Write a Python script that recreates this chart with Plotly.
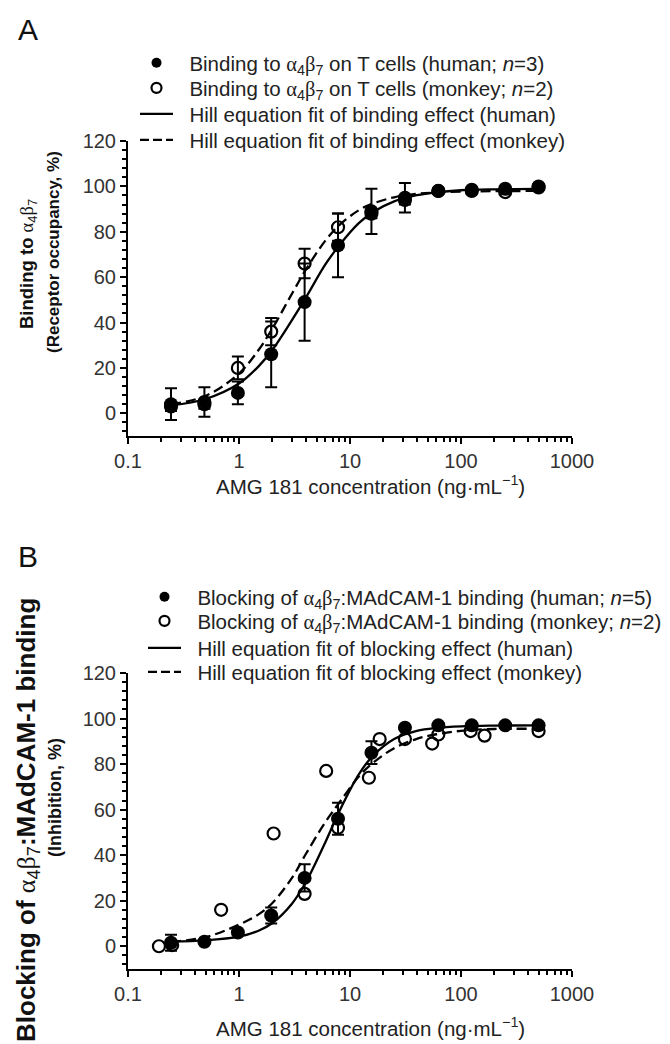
import plotly.graph_objects as go

# ---------------- data ----------------
conc_A = [0.244, 0.488, 0.977, 1.95, 3.9, 7.8, 15.6, 31.25, 62.5, 125, 250, 500]
human_A = [4, 5, 9, 26, 49, 74, 89, 95, 98, 98.5, 99, 100]
human_A_err = [7, 6.5, 5, 14.5, 17, 14, 10, 6.5, 1, 1, 1, 1]
monkey_A = [3, 4, 20, 36, 66, 82, 88, 94, 98, 98, 97.5, 99.5]
monkey_A_err = [2, 2, 5, 6, 6.5, 6, 2, 2, 1, 1, 1, 1]

fit_x = [0.244, 0.5, 1, 1.5, 2, 3, 4, 6, 8, 12, 16, 25, 40, 60, 100, 200, 500]
fit_A_human = [3.5, 6.3, 13.1, 20.7, 28, 41.1, 51, 65.6, 74, 83.8, 88.6, 93.4, 96.1, 97.4, 98.3, 98.7, 98.9]
fit_A_monkey = [4, 7.7, 17.5, 27.9, 37.4, 52.7, 63.3, 76.1, 82.9, 89.5, 92.4, 95.2, 96.7, 97.3, 97.7, 97.9, 98]

conc_B = [0.244, 0.488, 0.977, 1.95, 3.9, 7.8, 15.6, 31.25, 62.5, 125, 250, 500]
human_B = [1.5, 2, 6, 13.5, 30, 56, 85, 96, 97, 97, 97, 97]
human_B_err = [3.5, 1, 1, 3.5, 6, 7, 5, 1, 1, 1, 1, 1]
monkey_B_x = [0.19, 0.25, 0.69, 2.05, 3.9, 6.1, 7.8, 14.8, 18.5, 31.25, 55, 62.5, 122, 163, 500]
monkey_B_y = [0, 0.5, 16, 49.5, 23, 77, 52, 74, 91, 91, 89, 93, 94.5, 92.5, 94.5]

fit_B_human = [2.1, 2.6, 4.2, 6.8, 10.2, 18.7, 28.1, 45.7, 59.2, 75.5, 83.5, 91, 94.6, 95.9, 96.6, 96.9, 97]
fit_B_monkey = [2, 4, 9.5, 14, 19, 30, 40.5, 54.5, 63, 74.5, 80.4, 87, 91.1, 93.1, 94.6, 95.4, 95.5]

x_tickvals = [0.1, 1, 10, 100, 1000]
x_ticktext = ["0.1", "1", "10", "100", "1000"]
y_tickvals = [0, 20, 40, 60, 80, 100, 120]

ab = ('<span style="font-family:Liberation Serif">α</span><sub>4</sub>'
      '<span style="font-family:Liberation Serif">β</span><sub>7</sub>')
NB = "\u00a0\u00a0"
legend_A = [
    f"{NB}Binding to {ab} on T cells (human; <i>n</i>=3)",
    f"{NB}Binding to {ab} on T cells (monkey; <i>n</i>=2)",
    f"{NB}Hill equation fit of binding effect (human)",
    f"{NB}Hill equation fit of binding effect (monkey)",
]
legend_B = [
    f"{NB}Blocking of {ab}:MAdCAM-1 binding (human; <i>n</i>=5)",
    f"{NB}Blocking of {ab}:MAdCAM-1 binding (monkey; <i>n</i>=2)",
    f"{NB}Hill equation fit of blocking effect (human)",
    f"{NB}Hill equation fit of blocking effect (monkey)",
]

# ---------------- layout geometry ----------------
W, H = 670, 1044
FONT = "Liberation Sans, Arial, sans-serif"


def px_x(p):
    return p / W


def px_y(p):
    return 1 - p / H


fig = go.Figure()

minor_x = [m * 10 ** e for e in range(-1, 3) for m in range(2, 10)]


def add_panel(xa, ya, legends, human_x, human_y, human_err, mon_x, mon_y, mon_err,
              fit_h, fit_m, labels):
    fig.add_trace(go.Scatter(x=fit_x, y=fit_h, mode="lines", line=dict(color="black", width=2.3, shape="spline"),
                             xaxis=xa, yaxis=ya, showlegend=False, hoverinfo="skip"))
    fig.add_trace(go.Scatter(x=fit_x, y=fit_m, mode="lines",
                             line=dict(color="black", width=2.3, dash="10px,5px", shape="spline"),
                             xaxis=xa, yaxis=ya, showlegend=False, hoverinfo="skip"))
    ey = dict(type="data", array=mon_err, color="black", thickness=2, width=6, visible=True) if mon_err else None
    fig.add_trace(go.Scatter(x=mon_x, y=mon_y, mode="markers",
                             marker=dict(symbol="circle-open", size=12, color="black", line=dict(width=2.2)),
                             error_y=ey, xaxis=xa, yaxis=ya, showlegend=False, cliponaxis=False))
    fig.add_trace(go.Scatter(x=human_x, y=human_y, mode="markers",
                             marker=dict(symbol="circle", size=14, color="black"),
                             error_y=dict(type="data", array=human_err, color="black", thickness=2, width=6),
                             xaxis=xa, yaxis=ya, showlegend=False, cliponaxis=False))
    # legend samples (one legend box per row)
    fig.add_trace(go.Scatter(x=[None], y=[None], mode="markers", name=labels[0],
                             marker=dict(symbol="circle", size=10, color="black"),
                             xaxis=xa, yaxis=ya, legend=legends[0]))
    fig.add_trace(go.Scatter(x=[None], y=[None], mode="markers", name=labels[1],
                             marker=dict(symbol="circle-open", size=10, color="black", line=dict(width=2.2)),
                             xaxis=xa, yaxis=ya, legend=legends[1]))
    fig.add_trace(go.Scatter(x=[None], y=[None], mode="lines", name=labels[2],
                             line=dict(color="black", width=2.3),
                             xaxis=xa, yaxis=ya, legend=legends[2]))
    fig.add_trace(go.Scatter(x=[None], y=[None], mode="lines", name=labels[3],
                             line=dict(color="black", width=2.3, dash="9px,4px"),
                             xaxis=xa, yaxis=ya, legend=legends[3]))


add_panel("x", "y", ["legend", "legend2", "legend3", "legend4"], conc_A, human_A, human_A_err,
          conc_A, monkey_A, monkey_A_err, fit_A_human, fit_A_monkey, legend_A)
add_panel("x2", "y2", ["legend5", "legend6", "legend7", "legend8"], conc_B, human_B, human_B_err,
          monkey_B_x, monkey_B_y, None, fit_B_human, fit_B_monkey, legend_B)

x_dom = [px_x(120), px_x(564)]
yA_dom = [px_y(428), px_y(133)]
yB_dom = [px_y(961), px_y(665)]

xaxis_common = dict(
    type="log", range=[-1, 3], tickmode="array", tickvals=x_tickvals, ticktext=x_ticktext,
    showline=True, linewidth=2, linecolor="black", ticks="outside", ticklen=6, tickwidth=2,
    tickcolor="black", showgrid=False, zeroline=False, automargin=False,
    tickfont=dict(family=FONT, size=20, color="#333"),
    minor=dict(tickmode="array", tickvals=minor_x, ticks="outside", ticklen=4, tickwidth=1.5, tickcolor="black"),
    domain=x_dom,
)
yaxis_common = dict(
    range=[-10, 120], tickmode="array", tickvals=y_tickvals,
    showline=True, linewidth=2, linecolor="black", ticks="outside", ticklen=6, tickwidth=2,
    tickcolor="black", showgrid=False, zeroline=False, automargin=False,
    tickfont=dict(family=FONT, size=20, color="#333"),
    minor=dict(tickmode="linear", tick0=0, dtick=4, ticks="outside", ticklen=4, tickwidth=1.5, tickcolor="black"),
)

leg_font = dict(family=FONT, size=20.5, color="#222")
rows = {"legend": 55, "legend2": 80, "legend3": 106, "legend4": 132,
        "legend5": 589, "legend6": 613, "legend7": 640, "legend8": 664}
leg_x = {"legend": 127, "legend2": 127, "legend3": 127, "legend4": 127,
         "legend5": 135, "legend6": 135, "legend7": 135, "legend8": 135}
legend_layout = {}
for name, yy in rows.items():
    legend_layout[name] = dict(x=px_x(leg_x[name]), y=px_y(yy), xanchor="left", yanchor="middle",
                               bgcolor="rgba(0,0,0,0)", font=leg_font, itemwidth=33,
                               borderwidth=0)

fig.update_layout(
    width=W, height=H, margin=dict(l=0, r=0, t=0, b=0, pad=0),
    paper_bgcolor="white", plot_bgcolor="white",
    font=dict(family=FONT, color="#222"),
    xaxis=dict(xaxis_common, anchor="y"),
    xaxis2=dict(xaxis_common, anchor="y2"),
    yaxis=dict(yaxis_common, anchor="x", domain=yA_dom),
    yaxis2=dict(yaxis_common, anchor="x2", domain=yB_dom),
    showlegend=True,
    **legend_layout,
)

xtitle = "AMG 181 concentration (ng·mL<sup>−1</sup>)"
annotations = [
    dict(text="A", x=px_x(20), y=px_y(22), xanchor="center", yanchor="middle",
         font=dict(size=30, family=FONT, color="#111")),
    dict(text="B", x=px_x(20), y=px_y(548), xanchor="center", yanchor="middle",
         font=dict(size=30, family=FONT, color="#111")),
    dict(text=xtitle, x=px_x(362), y=px_y(477), xanchor="center", yanchor="middle",
         font=dict(size=20.5, family=FONT, color="#222")),
    dict(text=xtitle, x=px_x(362), y=px_y(1019), xanchor="center", yanchor="middle",
         font=dict(size=20.5, family=FONT, color="#222")),
    dict(text=f"<b>Binding to </b>{ab}", x=px_x(20), y=px_y(256), textangle=-90,
         xanchor="center", yanchor="middle", font=dict(size=18.5, family=FONT, color="#111")),
    dict(text="<b>(Receptor occupancy, %)</b>", x=px_x(46), y=px_y(244), textangle=-90,
         xanchor="center", yanchor="middle", font=dict(size=17, family=FONT, color="#111")),
    dict(text=f"<b>Blocking of </b>{ab}<b>:MAdCAM-1 binding</b>", x=px_x(19), y=px_y(812), textangle=-90,
         xanchor="center", yanchor="middle", font=dict(size=26, family=FONT, color="#111")),
    dict(text="<b>(Inhibition, %)</b>", x=px_x(47), y=px_y(790), textangle=-90,
         xanchor="center", yanchor="middle", font=dict(size=18, family=FONT, color="#111")),
]
for a in annotations:
    a.update(xref="paper", yref="paper", showarrow=False)
fig.update_layout(annotations=annotations)

fig.write_html("out.html")
